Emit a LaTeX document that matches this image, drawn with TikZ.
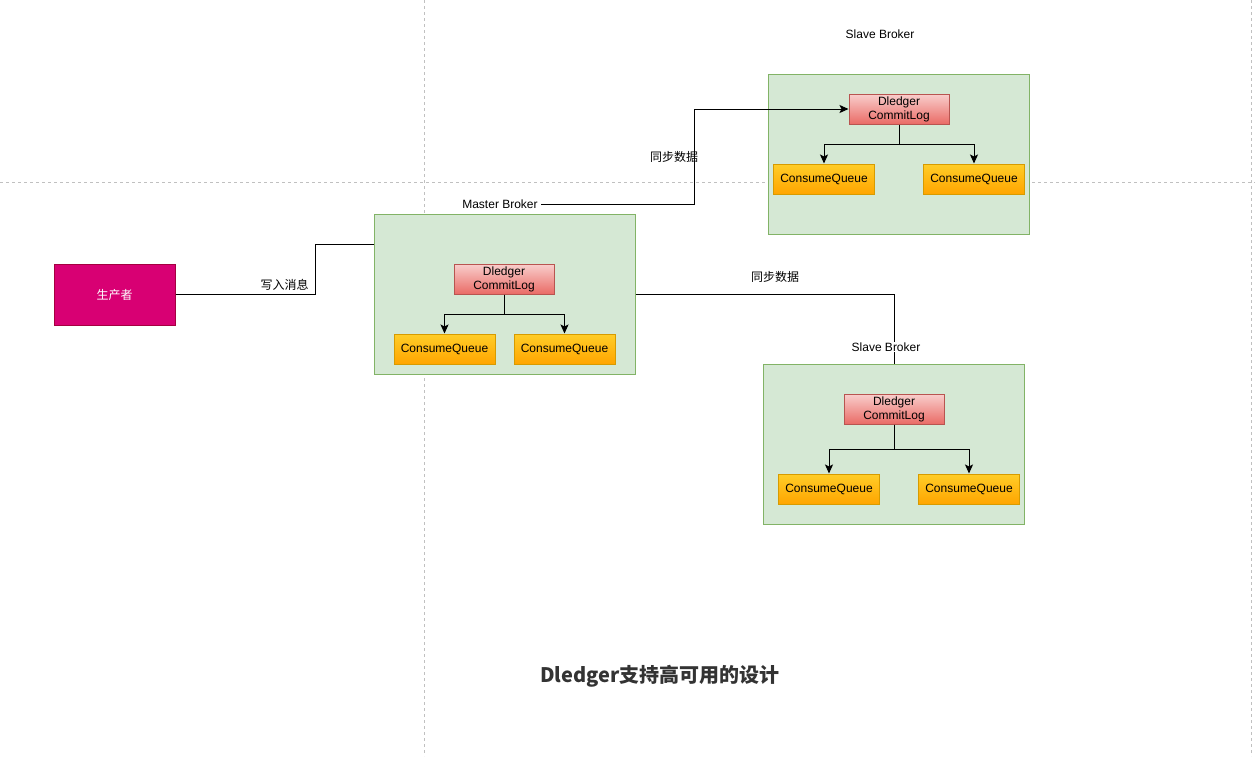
\documentclass[tikz,border=0pt]{standalone}
\usepackage{fontspec}
\setmainfont{Liberation Sans}
\newfontfamily\cjk{Noto Sans CJK SC}
\usetikzlibrary{arrows.meta,calc}
\definecolor{prodfill}{RGB}{216,0,115}
\definecolor{prodline}{RGB}{165,0,64}
\definecolor{brokerfill}{RGB}{213,232,212}
\definecolor{brokerline}{RGB}{130,179,102}
\definecolor{logtop}{RGB}{248,206,204}
\definecolor{logbot}{RGB}{234,107,102}
\definecolor{logline}{RGB}{184,84,80}
\definecolor{cqtop}{RGB}{255,205,40}
\definecolor{cqbot}{RGB}{255,165,0}
\definecolor{cqline}{RGB}{215,155,0}
\definecolor{guide}{RGB}{192,192,192}
\definecolor{titlegray}{RGB}{51,51,51}

\begin{document}
\begin{tikzpicture}[x=1pt, y=-1pt, line width=1pt, font=\fontsize{12}{14}\selectfont,
  broker/.style={rectangle, draw=brokerline, fill=brokerfill, minimum width=261pt, minimum height=160pt},
  clog/.style={rectangle, draw=logline, top color=logtop, bottom color=logbot, minimum width=100pt, minimum height=30pt, align=center, inner sep=1pt},
  cq/.style={rectangle, draw=cqline, top color=cqtop, bottom color=cqbot, minimum width=101pt, minimum height=30pt, text depth=1.5pt},
  lbl/.style={inner sep=3pt},
  arr/.style={-{Stealth[length=9pt,width=8pt,inset=2pt]}}]
\useasboundingbox (0,0) rectangle (1255,756);
% guide lines
\draw[guide, dashed, dash pattern=on 3pt off 3pt] (424,0) -- (424,756);
\draw[guide, dashed, dash pattern=on 3pt off 3pt] (0,182) -- (1255,182);
\draw[guide, dashed, dash pattern=on 3pt off 3pt] (1251,0) -- (1251,756);

% producer
\node[rectangle, draw=prodline, fill=prodfill, text=white, minimum width=121pt, minimum height=61pt] (prod) at (114.5,294.5) {\cjk 生产者};

% master broker
\node[broker] (master) at (504.5,294) {};
\node[lbl] (mlbl) at (500,204) {Master Broker};
\node[clog] (clM) at (504,279) {Dledger\\CommitLog};
\node[cq] (cqM1) at (444.5,349) {ConsumeQueue};
\node[cq] (cqM2) at (564.5,349) {ConsumeQueue};

% slave broker A
\node[broker] (slaveA) at (899,154) {};
\node[lbl] (albl) at (880,34) {Slave Broker};
\node[clog] (clA) at (899,109) {Dledger\\CommitLog};
\node[cq] (cqA1) at (824,179) {ConsumeQueue};
\node[cq] (cqA2) at (974,179) {ConsumeQueue};

% slave broker B
\node[broker] (slaveB) at (894,444) {};
\node[clog] (clB) at (894,409) {Dledger\\CommitLog};
\node[cq] (cqB1) at (829,489) {ConsumeQueue};
\node[cq] (cqB2) at (969,489) {ConsumeQueue};

\draw[arr] (clM.south) -- ++(0,20) -| (cqM1.north);
\draw[arr] (clM.south) -- ++(0,20) -| (cqM2.north);
\draw[arr] (clA.south) -- ++(0,20) -| (cqA1.north);
\draw[arr] (clA.south) -- ++(0,20) -| (cqA2.north);
\draw[arr] (clB.south) -- ++(0,25) -| (cqB1.north);
\draw[arr] (clB.south) -- ++(0,25) -| (cqB2.north);

\draw (prod.east) -- node[pos=0.78, above] {\cjk 写入消息} ++(140,0) |- ([yshift=50pt]master.west);
\draw[arr] (mlbl.east) -| ($(mlbl.east)!.5!(clA.west)$) node[left, xshift=7pt] {\cjk 同步数据} |- (clA.west);
\draw (master.east) -| node[pos=0.27, above=8pt] {\cjk 同步数据} (slaveB.north);
\node[lbl, fill=white, inner sep=1pt] (blbl) at (886,347) {Slave Broker};

\node[font=\cjk\bfseries\fontsize{20}{24}\selectfont, text=titlegray] (title) at (660,676) {Dledger支持高可用的设计};
\end{tikzpicture}
\end{document}
